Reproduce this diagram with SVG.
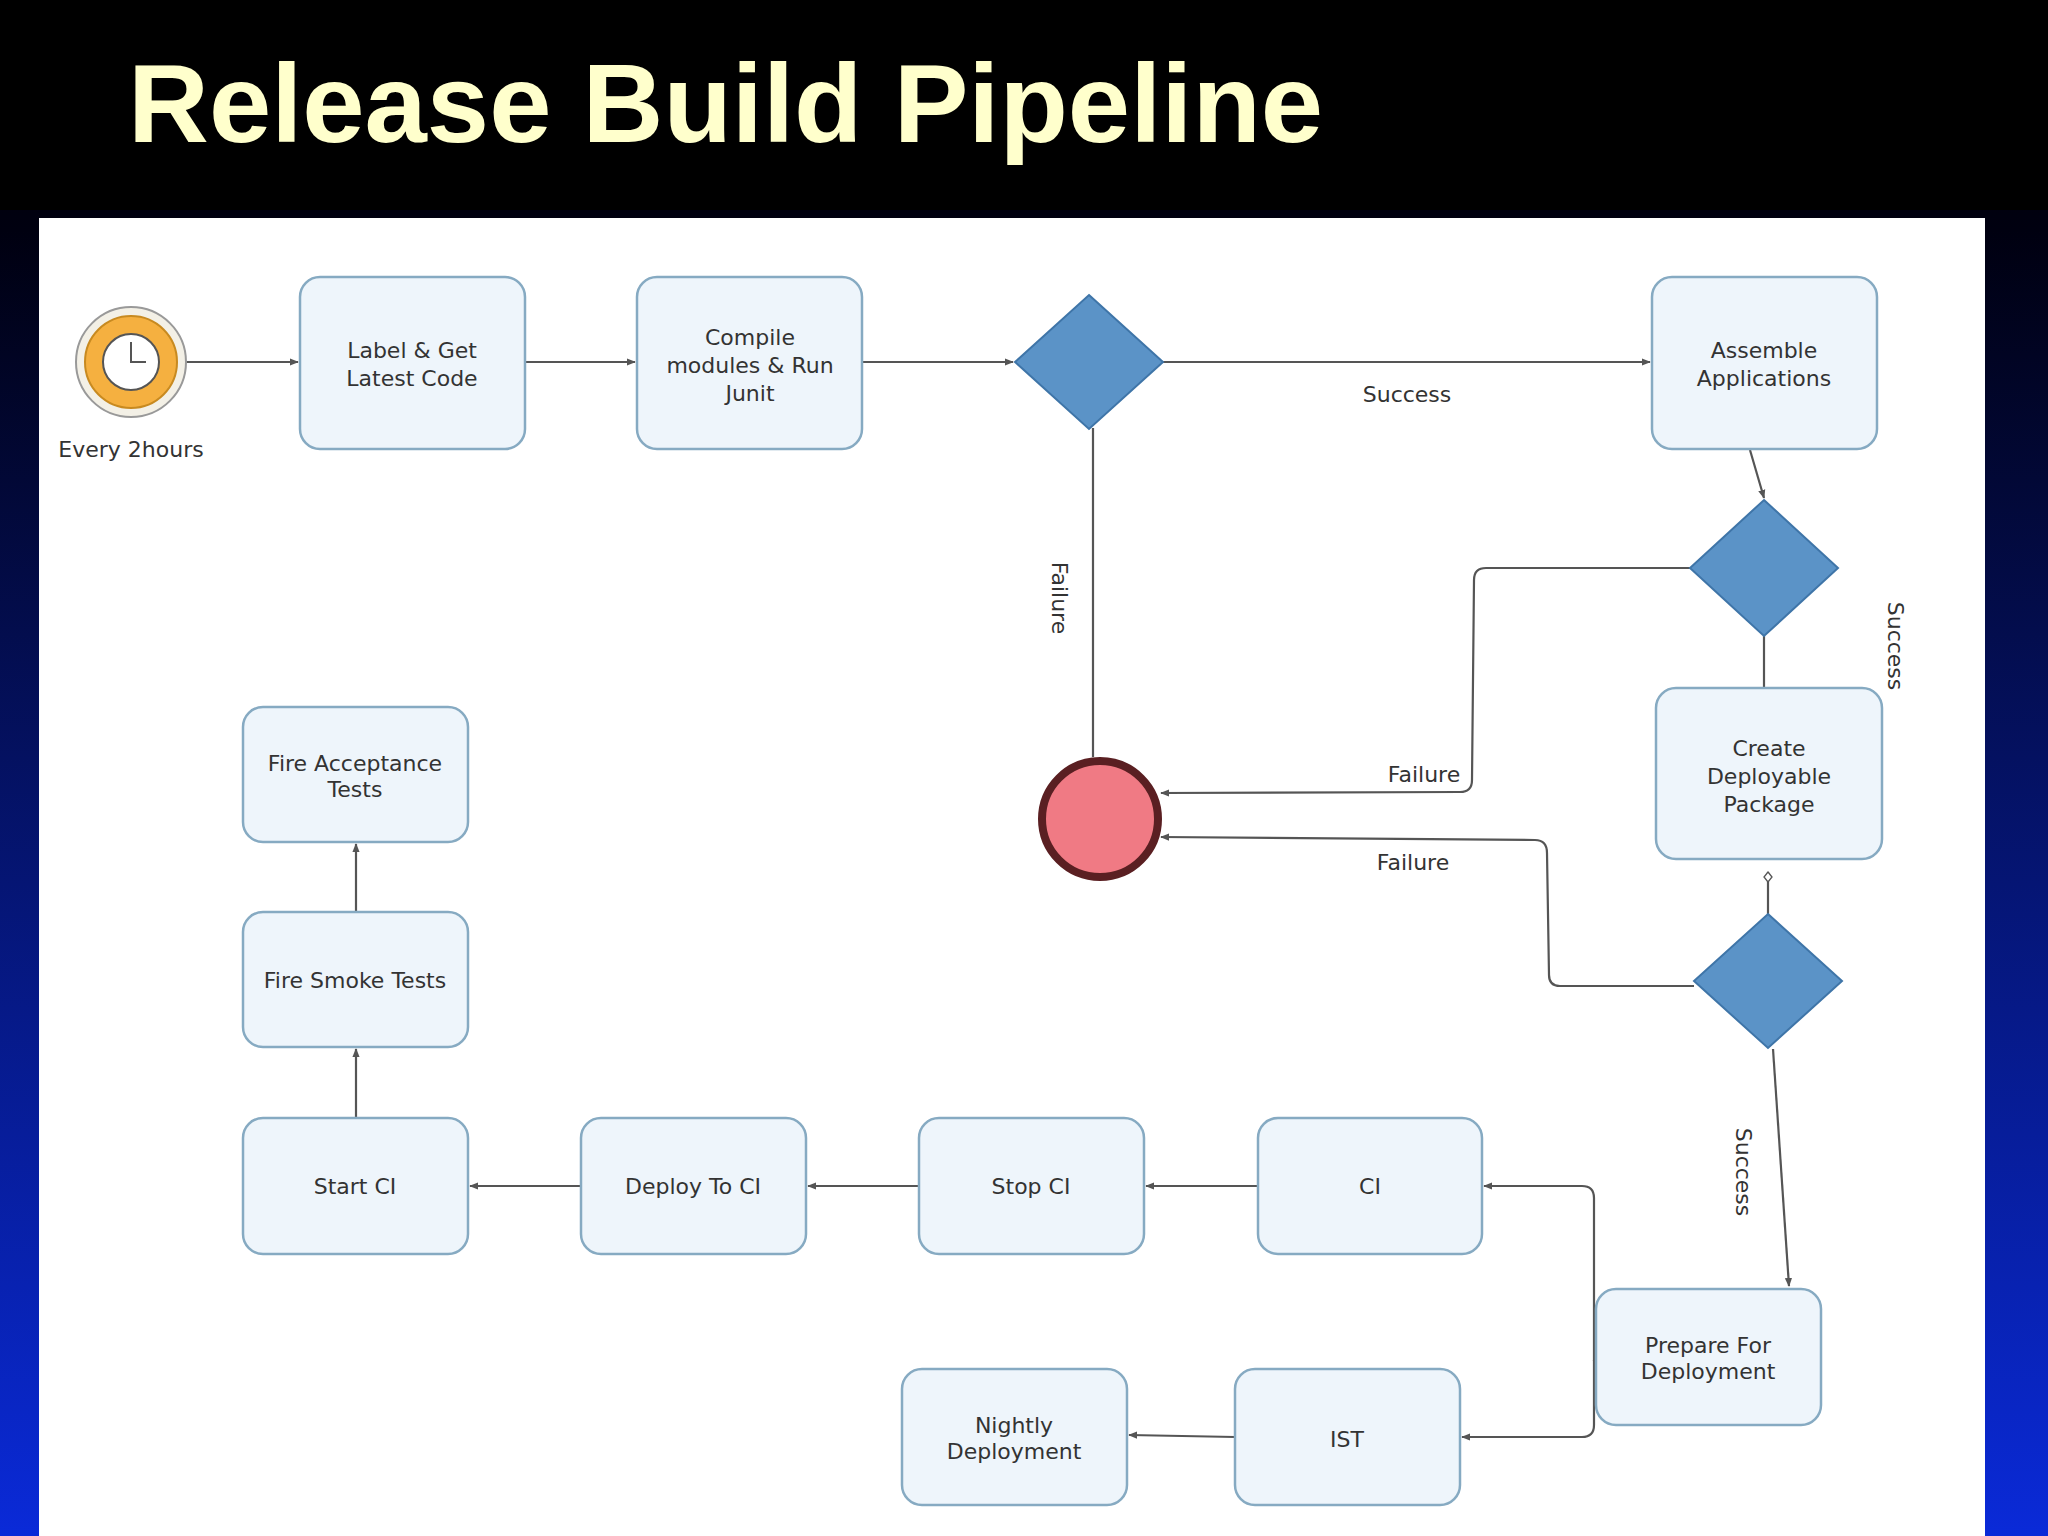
<svg xmlns="http://www.w3.org/2000/svg" width="2048" height="1536" viewBox="0 0 2048 1536">
<defs>
<linearGradient id="bg" x1="0" y1="0" x2="0" y2="1">
<stop offset="0" stop-color="#000000"/><stop offset="0.15" stop-color="#000010"/><stop offset="1" stop-color="#0a2ad8"/>
</linearGradient>
<marker id="ar" viewBox="0 0 10 10" refX="9" refY="5" markerWidth="9" markerHeight="9" orient="auto" markerUnits="userSpaceOnUse"><path d="M0,1 L10,5 L0,9 z" fill="#555"/></marker>
<marker id="dm" viewBox="0 0 12 12" refX="1" refY="6" markerWidth="12" markerHeight="12" orient="auto" markerUnits="userSpaceOnUse"><path d="M1,6 L6,2 L11,6 L6,10 z" fill="#fff" stroke="#555" stroke-width="1.3"/></marker>
</defs>
<style>
.n rect{fill:#eef5fb;stroke:#86aac2;stroke-width:2.5}
.t{font-family:"DejaVu Sans",Verdana,sans-serif;font-size:22px;fill:#333;text-anchor:middle}
.d{fill:#5b93c7;stroke:#3f75a8;stroke-width:2}
.c path{fill:none;stroke:#555;stroke-width:2.2}
</style>
<rect width="2048" height="1536" fill="url(#bg)"/>
<rect x="0" y="0" width="2048" height="210" fill="#000"/>
<text x="128" y="142" font-family="Liberation Sans,Arial,sans-serif" font-weight="bold" font-size="112" fill="#ffffcc">Release Build Pipeline</text>
<rect x="39" y="218" width="1946" height="1318" fill="#ffffff"/>

<g class="c">
<path d="M186,362 L298,362" marker-end="url(#ar)"/>
<path d="M525,362 L635,362" marker-end="url(#ar)"/>
<path d="M862,362 L1013,362" marker-end="url(#ar)"/>
<path d="M1163,362 L1650,362" marker-end="url(#ar)"/>
<path d="M1093,428 L1093,757"/>
<path d="M1750,450 L1764,498" marker-end="url(#ar)"/>
<path d="M1690,568 L1486,568 Q1474,568 1474,580 L1472,780 Q1472,792 1460,792 L1161,793" marker-end="url(#ar)"/>
<path d="M1764,636 L1764,688"/>
<path d="M1768,872 L1768,914" marker-start="url(#dm)"/>
<path d="M1694,986 L1560,986 Q1549,986 1549,975 L1547,853 Q1547,840 1535,840 L1161,837" marker-end="url(#ar)"/>
<path d="M1773,1049 L1789,1286" marker-end="url(#ar)"/>
<path d="M1596,1360 L1594,1360 L1594,1198 Q1594,1186 1582,1186 L1484,1186" marker-end="url(#ar)"/>
<path d="M1594,1360 L1594,1425 Q1594,1437 1582,1437 L1462,1437" marker-end="url(#ar)"/>
<path d="M1258,1186 L1146,1186" marker-end="url(#ar)"/>
<path d="M919,1186 L808,1186" marker-end="url(#ar)"/>
<path d="M581,1186 L470,1186" marker-end="url(#ar)"/>
<path d="M1235,1437 L1129,1435" marker-end="url(#ar)"/>
<path d="M356,1118 L356,1049" marker-end="url(#ar)"/>
<path d="M356,912 L356,844" marker-end="url(#ar)"/>
<text class="t" x="1407" y="402">Success</text>
<text class="t" x="1424" y="782">Failure</text>
<text class="t" x="1413" y="870">Failure</text>
<text class="t" transform="translate(1052,598) rotate(90)">Failure</text>
<text class="t" transform="translate(1888,646) rotate(90)">Success</text>
<text class="t" transform="translate(1736,1172) rotate(90)">Success</text>
</g>

<g id="timer">
<circle cx="131" cy="362" r="55" fill="#f3f0e6" stroke="#999" stroke-width="2"/>
<circle cx="131" cy="362" r="46" fill="#f5b040" stroke="#c88a20" stroke-width="2"/>
<circle cx="131" cy="362" r="28" fill="#fff" stroke="#555" stroke-width="2"/>
<path d="M131,342 L131,362 L146,362" fill="none" stroke="#555" stroke-width="2"/>
<text class="t" x="131" y="457">Every 2hours</text>
</g>
<g id="label" class="n"><rect x="300" y="277" width="225" height="172" rx="20"/><text class="t" x="412" y="358">Label &amp; Get</text><text class="t" x="412" y="386">Latest Code</text></g>
<g id="compile" class="n"><rect x="637" y="277" width="225" height="172" rx="20"/><text class="t" x="750" y="345">Compile</text><text class="t" x="750" y="373">modules &amp; Run</text><text class="t" x="750" y="401">Junit</text></g>
<g id="d1"><path class="d" d="M1089,295 L1163,362 L1089,429 L1015,362 z"/></g>
<g id="assemble" class="n"><rect x="1652" y="277" width="225" height="172" rx="20"/><text class="t" x="1764" y="358">Assemble</text><text class="t" x="1764" y="386">Applications</text></g>
<g id="d2"><path class="d" d="M1764,500 L1838,568 L1764,636 L1690,568 z"/></g>
<g id="create" class="n"><rect x="1656" y="688" width="226" height="171" rx="20"/><text class="t" x="1769" y="756">Create</text><text class="t" x="1769" y="784">Deployable</text><text class="t" x="1769" y="812">Package</text></g>
<g id="d3"><path class="d" d="M1768,914 L1842,981 L1768,1048 L1694,981 z"/></g>
<g id="end"><circle cx="1100" cy="819" r="58" fill="#f07a84" stroke="#5a1f22" stroke-width="8"/></g>
<g id="accept" class="n"><rect x="243" y="707" width="225" height="135" rx="20"/><text class="t" x="355" y="771">Fire Acceptance</text><text class="t" x="355" y="797">Tests</text></g>
<g id="smoke" class="n"><rect x="243" y="912" width="225" height="135" rx="20"/><text class="t" x="355" y="988">Fire Smoke Tests</text></g>
<g id="startci" class="n"><rect x="243" y="1118" width="225" height="136" rx="20"/><text class="t" x="355" y="1194">Start CI</text></g>
<g id="deployci" class="n"><rect x="581" y="1118" width="225" height="136" rx="20"/><text class="t" x="693" y="1194">Deploy To CI</text></g>
<g id="stopci" class="n"><rect x="919" y="1118" width="225" height="136" rx="20"/><text class="t" x="1031" y="1194">Stop CI</text></g>
<g id="ci" class="n"><rect x="1258" y="1118" width="224" height="136" rx="20"/><text class="t" x="1370" y="1194">CI</text></g>
<g id="prepare" class="n"><rect x="1596" y="1289" width="225" height="136" rx="20"/><text class="t" x="1708" y="1353">Prepare For</text><text class="t" x="1708" y="1379">Deployment</text></g>
<g id="ist" class="n"><rect x="1235" y="1369" width="225" height="136" rx="20"/><text class="t" x="1347" y="1447">IST</text></g>
<g id="nightly" class="n"><rect x="902" y="1369" width="225" height="136" rx="20"/><text class="t" x="1014" y="1433">Nightly</text><text class="t" x="1014" y="1459">Deployment</text></g>
</svg>
